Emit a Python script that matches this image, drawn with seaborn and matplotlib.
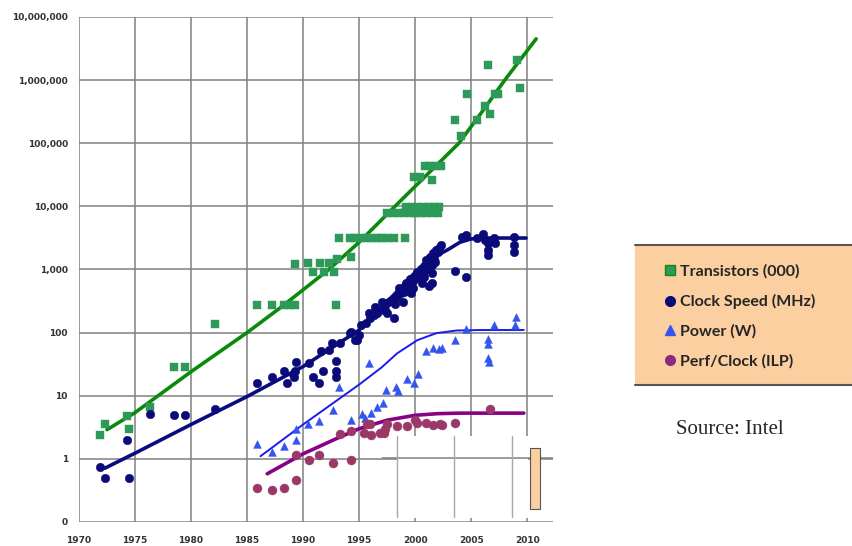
import matplotlib
matplotlib.use("Agg")
import matplotlib.pyplot as plt
import seaborn as sns
import pandas as pd
from matplotlib.patches import Rectangle
from matplotlib.lines import Line2D
from matplotlib.ticker import FixedLocator, FuncFormatter

sns.set_style("white")
plt.rcParams["font.family"] = ["DejaVu Sans"]

# Transistors (000) - scatter points
transYear = [1971.9, 1972.3, 1974.3, 1974.5, 1976.3, 1978.5, 1979.5, 1982.1,
             1985.9, 1987.2, 1988.3, 1988.8, 1989.3, 1992.9,
             1989.3, 1990.4, 1991.5, 1992.3, 1990.9, 1991.9, 1992.8, 1993.0, 1994.3,
             1993.2, 1994.2, 1994.6, 1995.1, 1995.6, 1996.1, 1996.6, 1997.0, 1997.5, 1998.1, 1999.1,
             1997.5, 1998.0, 1998.5, 1999.0, 1999.5, 2000.0, 2000.5, 2001.0, 2001.5, 2002.0,
             1999.2, 1999.7, 2000.2, 2000.7, 2001.2, 2001.7, 2002.1,
             2001.5, 1999.9, 2000.4, 2000.9, 2001.3, 2001.8, 2002.3,
             2003.6, 2004.1, 2004.6, 2005.5, 2006.2, 2006.5, 2006.7, 2007.1, 2007.4, 2009.1, 2009.4]
transVal = [2.4, 3.6, 4.7, 3.0, 6.7, 29, 29, 137,
            275, 275, 275, 275, 275, 275,
            1230, 1260, 1260, 1260, 900, 900, 900, 1450, 1600,
            3150, 3150, 3150, 3150, 3150, 3150, 3150, 3150, 3150, 3150, 3150,
            7800, 7800, 7800, 7800, 7800, 7800, 7800, 7800, 7800, 7800,
            9800, 9800, 9800, 9800, 9800, 9800, 9800,
            26000, 29000, 29000, 43000, 43000, 43000, 43000,
            230000, 130000, 600000, 235000, 390000, 1740000, 295000, 600000, 600000, 2100000, 740000]

# Clock speed (MHz)
clockYear = [1971.9, 1972.3, 1974.5, 1974.3, 1976.3, 1978.5, 1979.5, 1982.1,
             1985.9, 1987.2, 1988.3, 1988.6, 1989.1, 1989.4, 1989.3, 1989.2,
             1990.5, 1990.9, 1991.4, 1991.6, 1991.8, 1992.3, 1992.6, 1992.9, 1992.9, 1992.9,
             1993.3, 1994.2, 1994.3, 1994.6, 1994.85, 1995.0, 1995.2, 1995.6, 1995.9, 1996.0,
             1996.3, 1996.4, 1996.6, 1996.9, 1997.0, 1997.2, 1997.3, 1997.5, 1997.5, 1997.8,
             1998.1, 1998.1, 1998.2, 1998.4, 1998.6, 1998.7, 1998.9, 1999.0, 1999.2, 1999.3,
             1999.5, 1999.6, 1999.8, 1999.85, 2000.1, 2000.2, 2000.4, 2000.5, 2000.6, 2000.75,
             2000.8, 2000.9, 2001.0, 2001.1, 2001.2, 2001.2, 2001.3, 2001.5, 2001.5, 2001.5,
             2001.6, 2001.7, 2001.8, 2001.9, 2002.0, 2002.1, 2002.3,
             2003.6, 2004.2, 2004.5, 2004.5, 2005.5, 2006.1, 2006.25, 2006.5, 2006.5, 2006.5,
             2007.0, 2007.1, 2008.8, 2008.8, 2008.8]
clockVal = [0.75, 0.5, 0.5, 2.0, 5.1, 5, 5, 6.1,
            16, 20, 25, 16, 22, 34, 25, 20,
            33, 20, 16, 51, 25, 53, 68, 35, 25, 20,
            68, 98, 104, 76, 76, 93, 133, 140, 205, 170,
            190, 250, 205, 230, 300, 260, 230, 295, 205, 320,
            170, 350, 280, 370, 500, 420, 300, 445, 600, 540,
            700, 420, 500, 650, 730, 900, 820, 1000, 600, 1120,
            750, 980, 1420, 1250, 1030, 540, 1590, 1170, 870, 600,
            1800, 1500, 1320, 2050, 1900, 2200, 2450,
            950, 3300, 3560, 760, 3150, 3640, 2960, 2650, 2050, 1700,
            3150, 2650, 3300, 2450, 1900]

# Power (W)
powerYear = [1985.9, 1987.2, 1988.3, 1989.4, 1989.4, 1990.4, 1991.4, 1992.7, 1993.2,
             1994.3, 1995.3, 1995.5, 1995.9, 1996.1, 1996.6, 1997.1, 1997.4, 1998.3,
             1998.5, 1999.25, 1999.9, 2000.3, 2001.0, 2001.6, 2002.1, 2002.4, 2003.6,
             2004.5, 2006.5, 2006.5, 2006.5, 2006.6, 2007.0, 2008.9, 2009.0]
powerVal = [1.7, 1.3, 1.6, 2.0, 3.0, 3.6, 4.0, 6.0, 13.5,
            4.1, 5.1, 4.4, 33, 5.3, 6.7, 7.6, 12.3, 13.8,
            12, 18.6, 16, 22, 51, 56, 55, 58, 75,
            115, 79, 65, 39, 34, 132, 132, 175]

# Perf/Clock (ILP)
ilpYear = [1985.9, 1987.2, 1988.3, 1989.4, 1989.4, 1990.5, 1991.4, 1992.7, 1993.3,
           1994.3, 1994.3, 1995.4, 1995.7, 1996.0, 1996.1, 1996.9, 1997.2, 1997.3,
           1997.5, 1998.4, 1999.3, 2000.0, 2000.2, 2001.0, 2001.6, 2002.2, 2002.4,
           2003.6, 2006.7]
ilpVal = [0.34, 0.32, 0.34, 0.46, 1.15, 0.96, 1.15, 0.85, 2.5,
          0.96, 2.8, 2.6, 3.6, 3.6, 2.4, 2.6, 2.6, 3.0,
          3.6, 3.3, 3.3, 4.1, 3.7, 3.7, 3.5, 3.6, 3.4,
          3.7, 6.2]

# trend lines
transTrendYear = [1972.5, 1975, 1980, 1985, 1988, 1992.3, 1995, 1998.2, 2001, 2003.9, 2006, 2008, 2010.8]
transTrendVal = [2.9, 5.4, 24, 100, 250, 1000, 2700, 10000, 31000, 100000, 320000, 1000000, 4500000]
clockTrendYear = [1972.3, 1975, 1980, 1985, 1990, 1995, 1998, 2000, 2001.5, 2003, 2004, 2005, 2006, 2008, 2009.9]
clockTrendVal = [0.71, 1.23, 3.5, 9.7, 29, 110, 380, 900, 1500, 2100, 2700, 3050, 3150, 3150, 3150]
powerTrendYear = [1986.2, 1990, 1995, 1997, 1998.4, 2000.2, 2001.9, 2003.7, 2006, 2009.7]
powerTrendVal = [1.1, 3.5, 15, 28, 47, 76, 98, 108, 110, 110]
ilpTrendYear = [1986.8, 1990, 1993, 1995, 1997.5, 2000, 2002, 2004, 2009.7]
ilpTrendVal = [0.58, 1.2, 2.1, 3.0, 4.1, 4.9, 5.2, 5.3, 5.3]

yTicks = [0.1, 1, 10, 100, 1000, 10000, 100000, 1000000, 10000000]
xTicks = [1970, 1975, 1980, 1985, 1990, 1995, 2000, 2005, 2010]

fig = plt.figure(figsize=(8.52, 5.46), dpi=100)
ax = fig.add_axes([0.0927, 0.044, 0.5563, 0.9249])

sns.lineplot(x=transTrendYear, y=transTrendVal, ax=ax, color="#0a8a0a", linewidth=2.6, zorder=3)
sns.lineplot(x=clockTrendYear, y=clockTrendVal, ax=ax, color="#0b0b80", linewidth=2.6, zorder=3)
sns.lineplot(x=powerTrendYear, y=powerTrendVal, ax=ax, color="#1a1af0", linewidth=1.4, zorder=3)
sns.lineplot(x=ilpTrendYear, y=ilpTrendVal, ax=ax, color="#880088", linewidth=2.6, zorder=3)

sns.scatterplot(x=transYear, y=transVal, ax=ax, marker="s", s=32, color="#2e9a5a",
                edgecolor="#2e9a5a", linewidth=0.3, zorder=4)
sns.scatterplot(x=clockYear, y=clockVal, ax=ax, marker="o", s=38, color="#0a0a78",
                edgecolor="#0a0a78", linewidth=0.3, zorder=4)
sns.scatterplot(x=powerYear, y=powerVal, ax=ax, marker="^", s=32, color="#3355ee",
                edgecolor="#3355ee", linewidth=0.3, zorder=4)
sns.scatterplot(x=ilpYear, y=ilpVal, ax=ax, marker="o", s=42, color="#9a3868",
                edgecolor="#9a3868", linewidth=0.3, zorder=4)

ax.set_yscale("log")
ax.set_ylim(0.1, 10000000)
ax.set_xlim(1970, 2012.3)
ax.yaxis.set_major_locator(FixedLocator(yTicks))
ax.yaxis.set_minor_locator(FixedLocator([]))
ax.yaxis.set_major_formatter(FuncFormatter(lambda v, p: "0" if v < 0.5 else f"{v:,.0f}"))
ax.set_xticks(xTicks)
ax.grid(True, color="#808080", linewidth=1.1)
ax.set_axisbelow(True)
for s in ax.spines.values():
    s.set_visible(False)
ax.tick_params(axis="y", length=3, color="#808080", pad=5, labelsize=6.5, labelcolor="#333333")
ax.tick_params(axis="x", length=0, pad=10, labelsize=6.5, labelcolor="#333333")
for lab in ax.get_xticklabels() + ax.get_yticklabels():
    lab.set_fontweight("bold")

# screenshot artefacts: white patch with faint lines and a small tan box
ax.add_patch(Rectangle((0.671, 0.008), 0.277, 0.162, transform=ax.transAxes,
                       facecolor="white", edgecolor="none", zorder=2))
ax.plot([0.64, 1.0], [0.1267, 0.1267], transform=ax.transAxes,
        color="#808080", linewidth=1.1, zorder=2)
for fx in [0.671, 0.791, 0.914]:
    ax.plot([fx, fx], [0.01, 0.17], transform=ax.transAxes,
            color="#a8a8a8", linewidth=1, zorder=2)
ax.add_patch(Rectangle((0.952, 0.025), 0.02, 0.122, transform=ax.transAxes,
                       facecolor="#fbcfa0", edgecolor="#555555", linewidth=0.8,
                       zorder=5, clip_on=False))

# legend box on the right
fig.patches.append(Rectangle((635 / 852, 1 - 385 / 546), 217 / 852, 140 / 546,
                             transform=fig.transFigure, facecolor="#fbcfa0",
                             edgecolor="none", zorder=0))
for yy in [1 - 245 / 546, 1 - 385 / 546]:
    fig.lines.append(Line2D([635 / 852, 1.0], [yy, yy], transform=fig.transFigure,
                            color="#555555", linewidth=1.5))

handles = [
    Line2D([], [], linestyle="none", marker="s", markersize=7, markerfacecolor="#2e9a5a",
           markeredgecolor="#118811", markeredgewidth=1),
    Line2D([], [], linestyle="none", marker="o", markersize=7, color="#0a0a78"),
    Line2D([], [], linestyle="none", marker="^", markersize=7, color="#3355ee"),
    Line2D([], [], linestyle="none", marker="o", markersize=7, color="#8a2a80"),
]
labels = ["Transistors (000)", "Clock Speed (MHz)", "Power (W)", "Perf/Clock (ILP)"]
fig.legend(handles, labels, loc="upper left", bbox_to_anchor=(650 / 852, 1 - 250 / 546),
           frameon=False, handlelength=0.7, handletextpad=0.25, labelspacing=0.95,
           prop={"family": "Lato", "weight": "bold", "size": 11.5})

fig.text(730 / 852, 1 - 430 / 546, "Source: Intel", ha="center", va="center",
         family="Liberation Serif", fontsize=15)

plt.savefig("out.png", dpi=100)
